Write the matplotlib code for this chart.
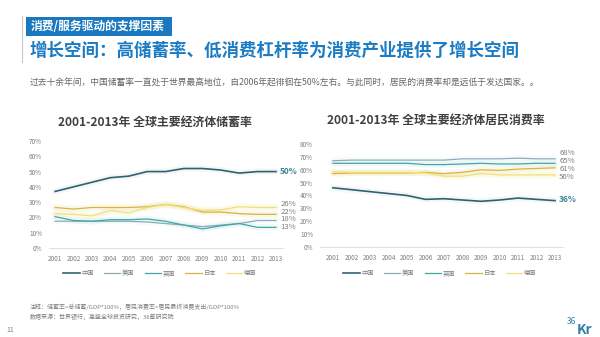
import matplotlib
matplotlib.use('Agg')
import matplotlib.pyplot as plt
from matplotlib.lines import Line2D
from matplotlib.patches import Rectangle

plt.rcParams['font.family'] = ['Noto Sans CJK SC', 'DejaVu Sans']

# data
years = [2001, 2002, 2003, 2004, 2005, 2006, 2007, 2008, 2009, 2010, 2011, 2012, 2013]
countries = ['中国', '美国', '英国', '日本', '德国']

savings_cn = [37, 40, 43, 46, 47, 50, 50, 52, 52, 51, 49, 50, 50]
savings_us = [17.5, 17.5, 17.5, 17.5, 17.5, 17, 16, 15, 14, 15, 16, 18, 18]
savings_uk = [20.5, 18, 17.5, 18.5, 18.5, 19, 17.5, 15, 12.5, 14.5, 16, 13.5, 13.5]
savings_jp = [26.5, 25.5, 26.5, 26.5, 26.5, 27, 28.5, 27, 23.5, 23.5, 22.5, 22, 22]
savings_de = [22.5, 22, 21, 24.5, 23, 26.5, 28.5, 26.5, 24.5, 25, 27, 26.5, 26.5]

cons_cn = [46, 44.5, 43, 41.5, 40, 37, 37.5, 36.5, 35.5, 36.5, 38, 37, 36]
cons_us = [67, 67.5, 67.5, 67.5, 67.5, 67.5, 67.5, 68.5, 68.5, 68.5, 69, 68.5, 68.5]
cons_uk = [65, 65, 65, 65, 65, 64, 64, 64.5, 65, 64.5, 64.5, 65, 65]
cons_jp = [57, 57.5, 57.5, 57.5, 57.5, 58, 57, 58, 60, 59.5, 60.5, 61, 61.5]
cons_de = [58.5, 58, 58, 58, 58, 57.5, 55, 55, 57, 56, 56, 56, 56]

# end labels: (value, text, vertical nudge in points)
savings_labels = [(50, '50%', 0), (26.5, '26%', 2.5), (22, '22%', 2.0), (18, '18%', 1.0), (13.5, '13%', 0.5)]
cons_labels = [(68.5, '68%', 4.5), (65, '65%', 1.5), (61.5, '61%', -0.5), (56, '56%', -1.5), (36, '36%', 0.5)]

colors = ['#2f6272', '#8aaeb6', '#3fa7a5', '#d6b441', '#efe07a']
widths = [1.2, 0.9, 0.9, 0.9, 0.9]
glow = [0.05, 0.05, 0.07, 0.1, 0.18]

fig = plt.figure(figsize=(6, 3.37), dpi=100)
W, H = 600, 337


def fx(px):
    return px / W


def fy(py):
    return 1 - py / H


# header
fig.add_artist(Line2D([fx(22), fx(22)], [fy(16), fy(62)], color='#c8c8c8', lw=0.8))
fig.add_artist(Rectangle((fx(26), fy(36)), fx(146), 19 / H, color='#1a78c0', lw=0))
fig.text(fx(31), fy(26.5), '消费/服务驱动的支撑因素', color='white', fontsize=8.5,
         fontweight='bold', va='center', ha='left')
fig.text(fx(30), fy(51), '增长空间：高储蓄率、低消费杠杆率为消费产业提供了增长空间',
         color='#1b7cc4', fontsize=12.6, fontweight='bold', va='center', ha='left')
fig.text(fx(30), fy(83), '过去十余年间，中国储蓄率一直处于世界最高地位，自2006年起徘徊在50%左右。'
         '与此同时，居民的消费率却是远低于发达国家。。',
         color='#666666', fontsize=6.3, va='center', ha='left')


def draw(ax, series, ymax, labels, ytop):
    for vals, c, a in zip(series, colors, glow):
        ax.plot(years, vals, color=c, lw=4.5, alpha=a, solid_capstyle='round')
    for vals, c, lw, name in zip(series, colors, widths, countries):
        ax.plot(years, vals, color=c, lw=lw, label=name)
    ax.set_ylim(0, ymax)
    ax.set_yticks(range(0, ymax + 1, 10))
    ax.set_yticklabels([f'{v}%' for v in range(0, ymax + 1, 10)])
    ax.set_xticks(years)
    ax.tick_params(length=0, labelsize=4.6, labelcolor='#7f7f7f', pad=5)
    for s in ['top', 'right', 'left']:
        ax.spines[s].set_visible(False)
    ax.spines['bottom'].set_color('#d9d9d9')
    ax.spines['bottom'].set_linewidth(0.6)
    ax.patch.set_alpha(0)
    for i, (v, t, dy) in enumerate(labels):
        bold = i == len(labels) - 1 if ytop else i == 0
        ax.annotate(t, (years[-1], v), xytext=(3, dy), textcoords='offset points',
                    va='center', ha='left',
                    fontsize=6 if bold else 5.6,
                    fontweight='bold' if bold else 'normal',
                    color='#3a8595' if bold else '#7f7f7f')


ax1 = fig.add_axes([fx(49), fy(248), fx(283 - 49), (248 - 141) / H])
draw(ax1, [savings_cn, savings_us, savings_uk, savings_jp, savings_de], 70, savings_labels, False)
ax1.set_xlim(2000.67, 2013.38)

ax2 = fig.add_axes([fx(320), fy(247), fx(563 - 320), (247 - 144) / H])
draw(ax2, [cons_cn, cons_us, cons_uk, cons_jp, cons_de], 80, cons_labels, True)
ax2.set_xlim(2000.3, 2013.43)

fig.text(fx(155), fy(122), '2001-2013年 全球主要经济体储蓄率', color='#404040',
         fontsize=8.6, fontweight='bold', ha='center', va='center')
fig.text(fx(436), fy(120), '2001-2013年 全球主要经济体居民消费率', color='#404040',
         fontsize=8.6, fontweight='bold', ha='center', va='center')

for ax, cx in [(ax1, 160), (ax2, 440)]:
    h, l = ax.get_legend_handles_labels()
    fig.legend(h, l, loc='center', bbox_to_anchor=(fx(cx), fy(273)), ncol=5,
               frameon=False, fontsize=4.5, handlelength=2.6, columnspacing=1.6,
               handletextpad=0.3, labelcolor='#7f7f7f')

# footer
fig.text(fx(30), fy(307), '注释：储蓄率=总储蓄/GDP*100%，居民消费率=居民最终消费支出/GDP*100%',
         color='#7f7f7f', fontsize=4.3, va='center', ha='left')
fig.text(fx(30), fy(317), '数据来源：世界银行，高盛全球投资研究，36氪研究院',
         color='#7f7f7f', fontsize=4.3, va='center', ha='left')
fig.text(fx(6), fy(330), '11', color='#7f7f7f', fontsize=5, va='center', ha='left')
fig.text(fx(567), fy(322), '36', color='#2f7fa8', fontsize=6, va='center', ha='left')
fig.text(fx(577), fy(330), 'Kr', color='#2f7fa8', fontsize=10, fontweight='bold',
         style='italic', va='center', ha='left')

fig.savefig('out.png', dpi=100)
